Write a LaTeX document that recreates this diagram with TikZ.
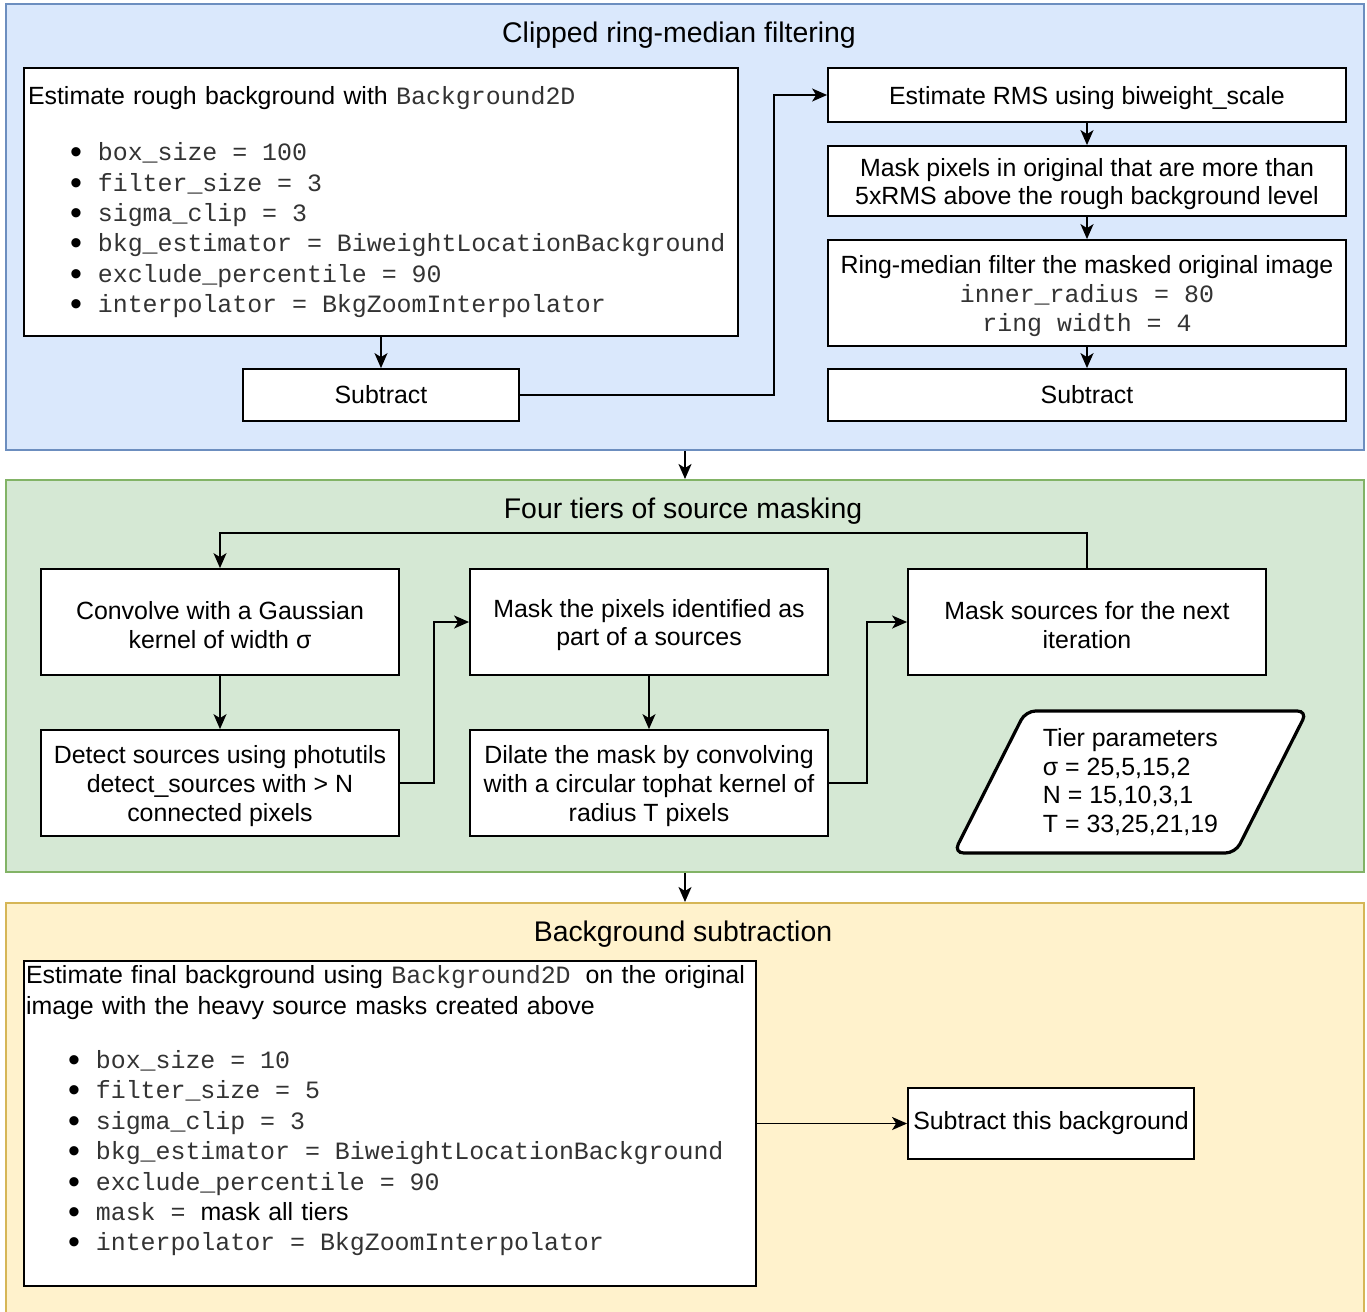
\documentclass[tikz,border=0pt]{standalone}
\usepackage{xcolor}
\usepackage{fontspec}
\setmainfont{Liberation Sans}
\setmonofont{Liberation Mono}
\usepackage{tikz}
\usetikzlibrary{shapes.geometric,arrows.meta}

\definecolor{bluefill}{HTML}{DAE8FC}
\definecolor{blueline}{HTML}{6C8EBF}
\definecolor{greenfill}{HTML}{D5E8D4}
\definecolor{greenline}{HTML}{82B366}
\definecolor{yellowfill}{HTML}{FFF2CC}
\definecolor{yellowline}{HTML}{D6B656}
\definecolor{codegray}{HTML}{333333}

\newcommand{\code}[1]{{\ttfamily\spaceskip=0pt\xspaceskip=0pt\color{codegray}#1}}
\newcommand{\bitem}{\hspace*{21pt}\raisebox{-1.5pt}{\fontsize{17pt}{0pt}\selectfont\textbullet}\hspace{8pt}}
\newcommand{\tup}{\rule{0pt}{12pt}}

\tikzset{
  panel/.style={rectangle, draw, line width=1pt, inner sep=0pt, minimum width=679pt},
  paneltitle/.style={anchor=base, inner sep=0pt, font=\fontsize{14.2pt}{17pt}\selectfont},
  stepbox/.style={rectangle, draw, fill=white, line width=0.9pt, align=center,
    inner sep=2pt, font=\fontsize{12.45pt}{14.4pt}\selectfont},
  listbox/.style={stepbox, align=left, font=\fontsize{12.45pt}{15.2pt}\selectfont}
}

\begin{document}
\begin{tikzpicture}[x=0.5pt, y=-0.5pt, line width=0.9pt,
  >={Stealth[length=7.5pt,width=6.5pt,inset=2pt]}]
\useasboundingbox (0,0) rectangle (1367,1312);

% panels
\node (blue) [panel, fill=bluefill, draw=blueline, minimum height=223pt] at (685,227) {};
\node (green) [panel, fill=greenfill, draw=greenline, minimum height=196pt] at (685,676) {};
\node (yellow) [panel, fill=yellowfill, draw=yellowline, minimum height=208pt] at (685,1111) {};
\node (bluetitle) [paneltitle] at (679,42) {Clipped ring-median filtering};
\node (greentitle) [paneltitle] at (683,518) {Four tiers of source masking};
\node (yellowtitle) [paneltitle] at (683,941) {Background subtraction};

% clipped ring-median filtering
\node (rough) [listbox, minimum width=357pt, minimum height=134pt, text width=353pt] at (381,202)
  {Estimate rough background with \code{Background2D}\\[13pt]
   \bitem\code{box\_size = 100}\\
   \bitem\code{filter\_size = 3}\\
   \bitem\code{sigma\_clip = 3}\\
   \bitem\code{bkg\_estimator = BiweightLocationBackground}\\
   \bitem\code{exclude\_percentile = 90}\\
   \bitem\code{interpolator = BkgZoomInterpolator}};
\node (subone) [stepbox, minimum width=138pt, minimum height=26pt] at (381,395) {Subtract};
\node (rms) [stepbox, minimum width=259pt, minimum height=27pt] at (1087,95) {\tup Estimate RMS using biweight\_scale};
\node (maskpix) [stepbox, minimum width=259pt, minimum height=35pt] at (1087,181)
  {\tup Mask pixels in original that are more than\\5xRMS above the rough background level};
\node (ring) [stepbox, minimum width=259pt, minimum height=53pt] at (1087,293)
  {\tup Ring-median filter the masked original image\\\code{inner\_radius = 80}\\\code{ring width = 4}};
\node (subtwo) [stepbox, minimum width=259pt, minimum height=26pt] at (1087,395) {Subtract};
\coordinate (jogone) at (774,395);

% four tiers of source masking
\node (conv) [stepbox, minimum width=179pt, minimum height=53pt] at (220,622)
  {\tup Convolve with a Gaussian\\kernel of width σ};
\node (detect) [stepbox, minimum width=179pt, minimum height=53pt] at (220,783)
  {\tup Detect sources using photutils\\detect\_sources with > N\\connected pixels};
\node (maskid) [stepbox, minimum width=179pt, minimum height=53pt] at (649,622)
  {\tup Mask the pixels identified as\\part of a sources};
\node (dilate) [stepbox, minimum width=179pt, minimum height=53pt] at (649,783)
  {\tup Dilate the mask by convolving\\with a circular tophat kernel of\\radius T pixels};
\node (masknext) [stepbox, minimum width=179pt, minimum height=53pt] at (1087,622)
  {\tup Mask sources for the next\\iteration};
\node (tiers) [stepbox, trapezium, trapezium left angle=61.5, trapezium right angle=118.5,
  trapezium stretches=true, minimum width=177pt, minimum height=71pt, line width=1.6pt,
  rounded corners=5pt, align=left] at (1130.5,782)
  {Tier parameters\\σ = 25,5,15,2\\N = 15,10,3,1\\T = 33,25,21,19};
\coordinate (jogtwo) at (434,783);
\coordinate (jogthree) at (867,783);
\coordinate (loopback) at (1087,533);

% background subtraction
\node (final) [listbox, minimum width=366pt, minimum height=162.5pt, text width=364pt,
  inner xsep=1pt] at (390,1123.5)
  {Estimate final background using \code{Background2D\ }on the original\\
   image with the heavy source masks created above\\[12pt]
   \bitem\code{box\_size = 10}\\
   \bitem\code{filter\_size = 5}\\
   \bitem\code{sigma\_clip = 3}\\
   \bitem\code{bkg\_estimator = BiweightLocationBackground}\\
   \bitem\code{exclude\_percentile = 90}\\
   \bitem\code{mask = }mask all tiers\\
   \bitem\code{interpolator = BkgZoomInterpolator}\\
   \mbox{}};
\node (subfinal) [stepbox, minimum width=143pt, minimum height=35.5pt] at (1051,1123.5)
  {Subtract this background};

\draw [->] (rough) -- (subone);
\draw [->] (subone.east) -- (jogone) |- (rms.west);
\draw [->] (rms) -- (maskpix);
\draw [->] (maskpix) -- (ring);
\draw [->] (ring) -- (subtwo);
\draw [->] (blue) -- (green);
\draw [->] (conv) -- (detect);
\draw [->] (detect.east) -- (jogtwo) |- (maskid.west);
\draw [->] (maskid) -- (dilate);
\draw [->] (dilate.east) -- (jogthree) |- (masknext.west);
\draw [->] (masknext.north) -- (loopback) -| (conv.north);
\draw [->] (green) -- (yellow);
\draw [->] (final) -- (subfinal);
\end{tikzpicture}
\end{document}
